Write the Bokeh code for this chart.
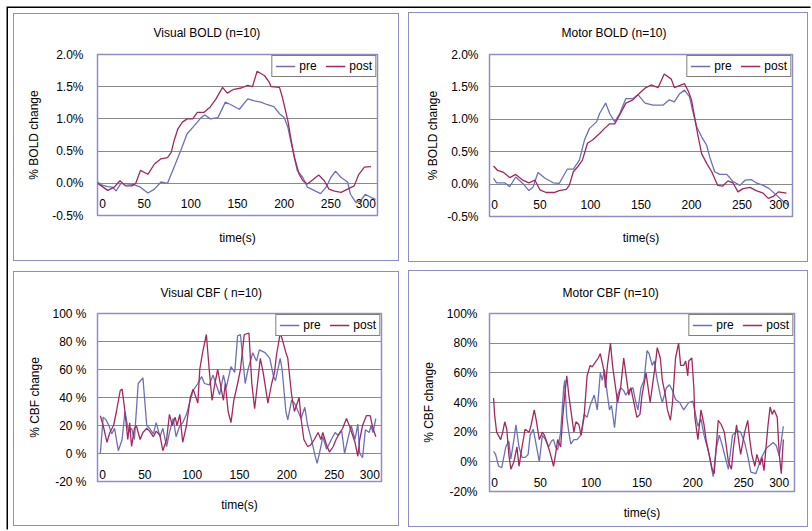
from bokeh.plotting import figure
from bokeh.layouts import gridplot
from bokeh.models import FixedTicker, Legend, LegendItem, Range1d, LinearAxis
from bokeh.embed import file_html
from bokeh.resources import INLINE

FONT = "Liberation Sans"
PRE_COLOR = "#6c71b6"
POST_COLOR = "#a3285f"
FRAME_COLOR = "#8e8ec6"
GRID_COLOR = "#8a8a8a"
NB = "\u00a0"

# ---------------- data ----------------
x_ticks = [0, 50, 100, 150, 200, 250, 300]
x_tick_labels = [NB * 3 + "0", "50", "100", "150", "200", "250", "300" + NB * 7]
bold_ticks = [-0.5, 0.0, 0.5, 1.0, 1.5, 2.0]
bold_tick_labels = ["-0.5%", "0.0%", "0.5%", "1.0%", "1.5%", "2.0%"]
cbf_ticks = [-20, 0, 20, 40, 60, 80, 100]
visual_cbf_tick_labels = ["-20 %", "0 %", "20 %", "40 %", "60 %", "80 %", "100 %"]
motor_cbf_tick_labels = ["-20%", "0%", "20%", "40%", "60%", "80%", "100%"]
series_names = ["pre", "post"]

# (time s, % change)
visual_bold_pre = [(0, 0.02), (5, -0.03), (11, -0.05), (16, -0.06), (20, -0.12), (25, 0.0), (32, -0.01),
                   (39, -0.02), (46, -0.06), (54, -0.15), (61, -0.09), (68, 0.02), (75, 0.0), (82, 0.25),
                   (89, 0.5), (96, 0.77), (104, 0.9), (111, 1.02), (115, 1.06), (121, 1.0), (129, 1.02),
                   (137, 1.26), (143, 1.22), (152, 1.15), (161, 1.31), (168, 1.28), (175, 1.26),
                   (182, 1.22), (189, 1.19), (195, 1.08), (200, 1.02), (204, 0.87), (207, 0.66),
                   (211, 0.4), (214, 0.2), (220, 0.09), (225, -0.06), (232, -0.11), (239, -0.16),
                   (245, -0.06), (250, 0.09), (255, 0.19), (261, 0.09), (268, 0.02), (271, -0.17),
                   (277, -0.3), (282, -0.27), (287, -0.17), (293, -0.22), (298, -0.25)]
visual_bold_post = [(0, 0.0), (4, -0.04), (11, -0.11), (18, -0.06), (24, 0.04), (30, -0.04), (37, -0.04),
                    (41, 0.0), (46, 0.2), (54, 0.14), (61, 0.3), (68, 0.38), (75, 0.4), (79, 0.48),
                    (82, 0.66), (86, 0.84), (91, 0.95), (96, 1.0), (102, 1.0), (107, 1.1), (114, 1.1),
                    (121, 1.19), (127, 1.31), (134, 1.49), (139, 1.4), (146, 1.46), (154, 1.48),
                    (161, 1.52), (166, 1.5), (171, 1.74), (179, 1.67), (184, 1.57), (186, 1.5),
                    (195, 1.49), (198, 1.34), (204, 0.97), (207, 0.71), (211, 0.4), (216, 0.14),
                    (220, 0.04), (225, -0.01), (232, 0.07), (237, 0.13), (243, 0.04), (248, -0.09),
                    (254, -0.12), (261, -0.14), (268, -0.09), (275, -0.04), (280, 0.14), (286, 0.25),
                    (293, 0.26)]
motor_bold_pre = [(4, 0.09), (7, 0.02), (15, 0.02), (20, -0.04), (26, 0.11), (33, 0.01), (39, -0.1),
                  (43, -0.05), (48, 0.18), (55, 0.09), (63, 0.02), (69, 0.01), (77, 0.23), (83, 0.23),
                  (89, 0.37), (94, 0.68), (99, 0.86), (106, 0.96), (109, 1.09), (115, 1.25), (119, 1.09),
                  (124, 0.96), (129, 1.09), (135, 1.32), (142, 1.32), (147, 1.38), (154, 1.25),
                  (162, 1.22), (172, 1.22), (178, 1.3), (183, 1.27), (188, 1.39), (193, 1.45),
                  (198, 1.35), (201, 1.14), (205, 0.89), (210, 0.73), (215, 0.6), (218, 0.42),
                  (223, 0.19), (228, 0.15), (235, 0.15), (241, 0.04), (248, -0.02), (253, 0.06),
                  (259, 0.07), (264, 0.02), (271, -0.02), (277, -0.07), (284, -0.17), (291, -0.27),
                  (296, -0.32)]
motor_bold_post = [(4, 0.28), (8, 0.21), (14, 0.18), (20, 0.1), (26, 0.15), (33, 0.06), (39, 0.02),
                   (45, 0.06), (50, -0.09), (56, -0.13), (64, -0.13), (69, -0.1), (76, -0.08), (79, -0.02),
                   (83, 0.19), (88, 0.28), (92, 0.37), (97, 0.63), (102, 0.68), (109, 0.78), (114, 0.86),
                   (119, 0.93), (124, 0.93), (129, 1.07), (135, 1.25), (142, 1.3), (149, 1.41),
                   (154, 1.48), (160, 1.53), (167, 1.49), (173, 1.7), (180, 1.62), (183, 1.49),
                   (188, 1.52), (193, 1.55), (197, 1.43), (200, 1.3), (203, 1.04), (206, 0.78),
                   (210, 0.47), (215, 0.32), (220, 0.19), (226, -0.02), (231, -0.03), (236, 0.05),
                   (241, 0.02), (246, -0.12), (251, -0.07), (258, -0.05), (264, -0.1), (271, -0.14),
                   (276, -0.22), (281, -0.19), (286, -0.12), (291, -0.13), (294, -0.14)]
visual_cbf_pre = [(3, 0), (6, 26), (9, 24), (12, 20), (15, 14), (18, 18), (22, 2), (26, 10), (29, 30),
                  (33, 15), (36, 18), (39, 10), (43, 50), (48, 54), (52, 20), (55, 18), (59, 14), (62, 22),
                  (66, 12), (69, 18), (73, 5), (76, 15), (80, 25), (83, 12), (87, 20), (90, 22), (94, 28),
                  (98, 38), (101, 45), (106, 50), (110, 55), (113, 50), (118, 49), (122, 56), (125, 50),
                  (129, 42), (133, 56), (136, 47), (141, 62), (145, 58), (148, 84), (151, 85), (156, 50),
                  (159, 60), (164, 72), (168, 66), (171, 74), (177, 72), (182, 68), (186, 55), (188, 52),
                  (193, 68), (195, 60), (199, 30), (201, 24), (205, 38), (208, 36), (212, 30), (215, 25),
                  (219, 33), (222, 20), (226, 10), (230, -2), (232, -7), (236, 5), (238, 12), (242, 3),
                  (247, 10), (251, 15), (254, 13), (258, 16), (261, 0), (265, 12), (268, 20), (272, 10),
                  (275, 21), (277, 0), (280, -3), (283, 17), (287, 15), (289, 20), (291, 15), (294, 25)]
visual_cbf_post = [(3, 27), (6, 20), (10, 8), (13, 15), (17, 20), (20, 30), (24, 45), (26, 46), (29, 30),
                   (32, 10), (34, 22), (36, 5), (39, 18), (41, 20), (45, 10), (48, 15), (52, 18), (55, 16),
                   (59, 12), (62, 16), (66, 13), (69, 2), (73, 10), (76, 28), (79, 20), (82, 26), (84, 20),
                   (87, 28), (90, 8), (94, 20), (98, 40), (101, 46), (106, 36), (108, 60), (111, 72),
                   (115, 85), (118, 60), (121, 38), (124, 50), (127, 60), (131, 45), (133, 38), (135, 50),
                   (138, 30), (141, 22), (144, 38), (148, 50), (151, 60), (155, 85), (160, 86), (163, 50),
                   (166, 32), (169, 50), (172, 68), (175, 58), (180, 36), (184, 50), (187, 58), (189, 70),
                   (193, 86), (195, 82), (199, 72), (201, 68), (205, 42), (208, 30), (213, 40), (215, 25),
                   (218, 10), (222, 5), (225, 6), (229, 10), (233, 15), (236, 10), (238, 15), (242, 6),
                   (245, 1), (249, 5), (252, 10), (256, 15), (259, 18), (263, 25), (266, 20), (270, 12),
                   (272, 8), (275, -2), (277, 10), (280, 20), (284, 27), (288, 27), (291, 18), (294, 12)]
motor_cbf_pre = [(4, 7), (6, 5), (9, -3), (12, -4), (16, 10), (19, 14), (21, 2), (24, 15), (26, 25),
                 (29, 10), (32, 3), (35, 3), (38, 5), (40, 18), (43, 22), (45, 15), (49, 0), (52, 18),
                 (55, 15), (58, 10), (61, 14), (63, 15), (65, 10), (67, 8), (70, 20), (73, 50), (74, 55),
                 (76, 30), (78, 20), (80, 12), (83, 15), (86, 15), (90, 18), (93, 32), (96, 30), (99, 38),
                 (103, 45), (106, 35), (109, 60), (111, 55), (113, 62), (116, 45), (118, 35), (120, 38),
                 (123, 23), (126, 45), (129, 50), (132, 48), (134, 45), (137, 48), (141, 50), (144, 40),
                 (146, 35), (149, 50), (152, 55), (155, 75), (157, 73), (160, 65), (162, 68), (165, 55),
                 (168, 45), (170, 40), (174, 50), (177, 52), (180, 48), (183, 42), (187, 40), (191, 35),
                 (196, 40), (200, 41), (205, 24), (208, 29), (211, 18), (216, 5), (220, -10), (223, 9),
                 (226, 18), (229, 11), (233, 0), (235, -5), (239, 18), (244, 21), (247, 20), (251, 13),
                 (254, 4), (257, -7), (262, -8), (267, 2), (272, 9), (279, 13), (282, 11), (285, 4),
                 (289, 24)]
motor_cbf_post = [(4, 43), (5, 32), (7, 20), (11, 15), (13, 20), (15, 27), (17, 22), (19, 5), (21, -5),
                  (24, 0), (27, 10), (29, -3), (32, 10), (35, 22), (39, 20), (41, 25), (44, 35), (46, 28),
                  (49, 15), (52, 20), (54, 18), (57, 12), (60, 5), (63, -3), (65, 5), (67, 15), (70, 10),
                  (72, 30), (74, 45), (76, 58), (78, 45), (81, 30), (83, 20), (85, 27), (88, 25), (90, 18),
                  (93, 30), (96, 58), (99, 65), (101, 64), (104, 67), (107, 70), (109, 73), (113, 60),
                  (114, 50), (116, 65), (119, 80), (121, 65), (124, 50), (126, 40), (129, 50), (132, 70),
                  (134, 60), (137, 45), (139, 50), (142, 40), (145, 30), (148, 32), (150, 45), (154, 60),
                  (156, 50), (158, 40), (160, 50), (163, 65), (165, 77), (168, 70), (170, 55), (173, 45),
                  (175, 35), (178, 28), (180, 40), (182, 60), (183, 70), (186, 80), (188, 65), (191, 65),
                  (193, 68), (195, 58), (196, 68), (199, 70), (201, 50), (202, 30), (204, 20), (205, 15),
                  (208, 35), (211, 25), (213, 15), (216, 5), (219, -5), (221, -8), (223, 10), (225, 28),
                  (228, 25), (231, 20), (233, 10), (235, 0), (238, -5), (240, 10), (243, 25), (245, 15),
                  (247, 5), (251, 20), (254, 28), (256, 15), (258, 5), (261, -3), (263, 5), (266, -2),
                  (268, 3), (270, -6), (272, 10), (274, 25), (276, 37), (278, 32), (280, 35), (283, 30),
                  (285, 5), (287, -8), (289, 15)]


def style_axis(ax):
    ax.axis_line_color = None
    ax.major_tick_out = 0
    ax.major_tick_in = 0
    ax.minor_tick_out = 0
    ax.minor_tick_in = 0
    ax.major_label_text_font = FONT
    ax.major_label_text_font_size = "12px"
    ax.major_label_text_color = "black"
    ax.axis_label_text_font = FONT
    ax.axis_label_text_font_size = "12px"
    ax.axis_label_text_font_style = "normal"
    ax.axis_label_text_color = "black"


def make_panel(title, ylabel, yticks, ylabels, pre, post, g):
    p = figure(frame_width=g["fw"], frame_height=g["fh"],
               min_border_left=g["bl"], min_border_right=g["br"],
               min_border_top=g["bt"], min_border_bottom=g["bb"],
               x_range=Range1d(0, 300), y_range=Range1d(yticks[0], yticks[-1]),
               output_backend="svg", toolbar_location=None,
               background_fill_color="white", border_fill_color="white",
               border_fill_alpha=0)
    p.outline_line_color = FRAME_COLOR
    p.outline_line_width = 1.5
    p.xgrid.visible = False
    p.ygrid.grid_line_color = GRID_COLOR
    p.ygrid.grid_line_width = 1

    p.title.text = title
    p.title.align = "left"
    p.title.offset = g["t_off"]
    p.title.standoff = g["t_so"]
    p.title.text_font = FONT
    p.title.text_font_size = "12px"
    p.title.text_font_style = "normal"
    p.title.text_color = "black"

    # y axis
    ya = p.yaxis[0]
    style_axis(ya)
    ya.ticker = FixedTicker(ticks=yticks)
    ya.major_label_overrides = {t: s for t, s in zip(yticks, ylabels)}
    ya.major_label_standoff = g["ylab_so"]
    ya.axis_label = ylabel
    ya.axis_label_standoff = g["yax_so"]

    # bottom axis carries only the axis title
    xa = p.xaxis[0]
    style_axis(xa)
    xa.ticker = FixedTicker(ticks=[])
    xa.major_label_standoff = 0
    xa.axis_label = "time(s)"
    xa.axis_label_standoff = g["xax_so"]

    # tick labels hanging from the zero line (Excel style)
    xz = LinearAxis(fixed_location=0, ticker=FixedTicker(ticks=x_ticks),
                    major_label_overrides={t: s for t, s in zip(x_ticks, x_tick_labels)},
                    major_label_standoff=14)
    style_axis(xz)
    p.add_layout(xz, "below")

    r_pre = p.line([a for a, b in pre], [b for a, b in pre], line_color=PRE_COLOR, line_width=1.3)
    r_post = p.line([a for a, b in post], [b for a, b in post], line_color=POST_COLOR, line_width=1.3)

    leg = Legend(items=[LegendItem(label=series_names[0], renderers=[r_pre]),
                        LegendItem(label=series_names[1], renderers=[r_post])],
                 location="top_right", orientation="horizontal",
                 border_line_color="black", border_line_width=1.2,
                 background_fill_color="white", background_fill_alpha=1,
                 label_text_font=FONT, label_text_font_size="12px",
                 label_text_color="black",
                 glyph_width=20, glyph_height=12, label_height=12, label_width=18,
                 label_standoff=4, spacing=8, padding=3, margin=1)
    p.add_layout(leg)
    p.styles = {"outline": "1.5px solid " + FRAME_COLOR, "outline-offset": g["inset"]}
    return p


g1 = dict(fw=280, fh=161, bl=89, br=27, bt=46, bb=51, ylab_so=14, yax_so=8, xax_so=15,
          t_off=56, t_so=30, inset="-6px")
g2 = dict(fw=303, fh=162, bl=85, br=20, bt=46, bb=50, ylab_so=11, yax_so=4, xax_so=14,
          t_off=72, t_so=30, inset="-5px")
g3 = dict(fw=284, fh=168, bl=85, br=27, bt=47, bb=50, ylab_so=11, yax_so=7, xax_so=16,
          t_off=63, t_so=28, inset="-6px")
g4 = dict(fw=305, fh=178, bl=84, br=19, bt=44, bb=43, ylab_so=12, yax_so=8, xax_so=14,
          t_off=73, t_so=27, inset="-5px")

p1 = make_panel("Visual BOLD (n=10)", "% BOLD change", bold_ticks, bold_tick_labels,
                visual_bold_pre, visual_bold_post, g1)
p2 = make_panel("Motor BOLD (n=10)", "% BOLD change", bold_ticks, bold_tick_labels,
                motor_bold_pre, motor_bold_post, g2)
p3 = make_panel("Visual CBF ( n=10)", "% CBF change", cbf_ticks, visual_cbf_tick_labels,
                visual_cbf_pre, visual_cbf_post, g3)
p4 = make_panel("Motor CBF (n=10)", "% CBF change", cbf_ticks, motor_cbf_tick_labels,
                motor_cbf_pre, motor_cbf_post, g4)

grid = gridplot([[p1, p2], [p3, p4]], toolbar_location=None)
grid.styles = {"margin-left": "8px", "margin-top": "8px", "box-shadow": "-1.5px -1.5px 0 0 black"}
open("out.html", "w").write(file_html(grid, INLINE))
